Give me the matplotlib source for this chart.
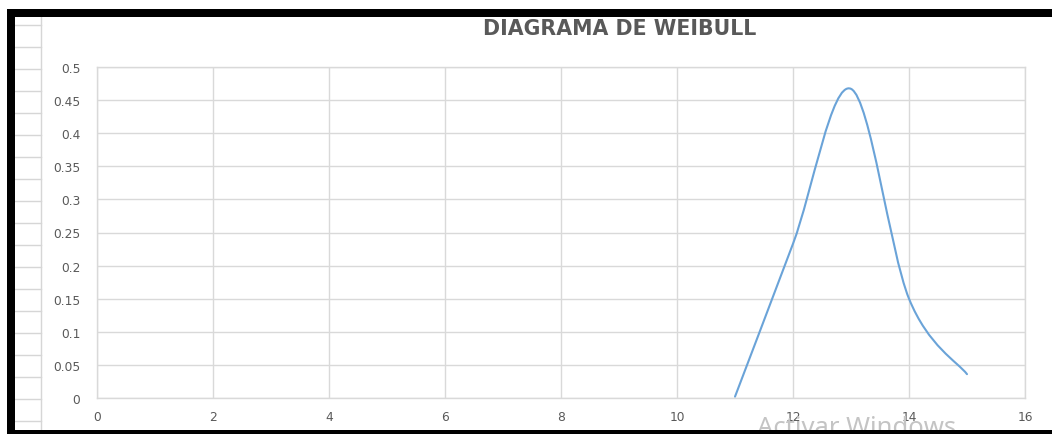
import matplotlib
matplotlib.use("Agg")
import matplotlib.pyplot as plt
from matplotlib.path import Path
from matplotlib.patches import PathPatch, Rectangle
from matplotlib.lines import Line2D
import numpy as np

# Weibull density values at each point
x_vals = [11, 12, 13, 14, 15]
y_vals = [0.002, 0.233, 0.467, 0.150, 0.036]

x_ticks = [0, 2, 4, 6, 8, 10, 12, 14, 16]
y_ticks = [0, 0.05, 0.1, 0.15, 0.2, 0.25, 0.3, 0.35, 0.4, 0.45, 0.5]
y_tick_labels = ["0", "0.05", "0.1", "0.15", "0.2", "0.25", "0.3", "0.35", "0.4", "0.45", "0.5"]
title = "DIAGRAMA DE WEIBULL"
watermark = "Activar Windows"

W, H = 1052, 435
fig = plt.figure(figsize=(W / 100, H / 100), dpi=100)
fig.patch.set_facecolor("white")


def fx(px):
    return px / W


def fy(py):
    return 1 - py / H


text_color = "#595959"
grid_color = "#d9d9d9"

ax = fig.add_axes([fx(97), fy(399), fx(1025) - fx(97), fy(68) - fy(399)])
ax.set_xlim(0, 16)
ax.set_ylim(0, 0.5)
ax.set_xticks(x_ticks)
ax.set_xticklabels([str(t) for t in x_ticks])
ax.set_yticks(y_ticks)
ax.set_yticklabels(y_tick_labels)
ax.grid(True, color=grid_color, linewidth=1.0)
ax.set_axisbelow(True)
for side in ["top", "right", "bottom", "left"]:
    ax.spines[side].set_color(grid_color)
    ax.spines[side].set_linewidth(1.0)
ax.tick_params(axis="both", length=0, labelcolor=text_color, labelsize=8.8)
ax.tick_params(axis="y", pad=12)
ax.tick_params(axis="x", pad=9)
for lab in ax.get_xticklabels() + ax.get_yticklabels():
    lab.set_fontfamily("DejaVu Sans")

# Smoothed line: cubic Bezier segments through the points (Catmull-Rom tangents)
pts = np.column_stack([x_vals, y_vals]).astype(float)
n = len(pts)
verts = [tuple(pts[0])]
codes = [Path.MOVETO]
for i in range(n - 1):
    p0 = pts[i - 1] if i > 0 else pts[i]
    p1 = pts[i]
    p2 = pts[i + 1]
    p3 = pts[i + 2] if i + 2 < n else pts[i + 1]
    c1 = p1 + (p2 - p0) / 6.0
    c2 = p2 - (p3 - p1) / 6.0
    verts += [tuple(c1), tuple(c2), tuple(p2)]
    codes += [Path.CURVE4] * 3
curve = PathPatch(Path(verts, codes), facecolor="none", edgecolor="#6aa3d8",
                  linewidth=1.5, capstyle="round", joinstyle="round")
ax.add_patch(curve)

fig.text(fx(620), fy(29), title, ha="center", va="center", color=text_color,
         fontsize=14.8, fontweight="bold", fontfamily="DejaVu Sans")

# Spreadsheet row strip on the left
for k in range(19):
    yy = 26 + 22 * k
    if yy > 431:
        break
    fig.add_artist(Line2D([fx(15), fx(41)], [fy(yy), fy(yy)], color="#d6d6d6",
                          linewidth=1.0, transform=fig.transFigure))
fig.add_artist(Line2D([fx(41), fx(41)], [fy(17), fy(431)], color="#d6d6d6",
                      linewidth=1.0, transform=fig.transFigure))

# Watermark text
fig.text(fx(757), fy(435), watermark, ha="left", va="baseline", color="#c4c4c4",
         fontsize=18.5, fontfamily="Noto Sans", zorder=5)

# Black frame
for (x0, y0, x1, y1) in [(7, 10, 1052, 17.5), (7, 10, 14.5, 435), (7, 431, 1052, 435)]:
    fig.add_artist(Rectangle((fx(x0), fy(y1)), fx(x1) - fx(x0), fy(y0) - fy(y1),
                             transform=fig.transFigure, facecolor="black",
                             edgecolor="none", zorder=10))

fig.savefig("out.png", dpi=100, facecolor="white")
